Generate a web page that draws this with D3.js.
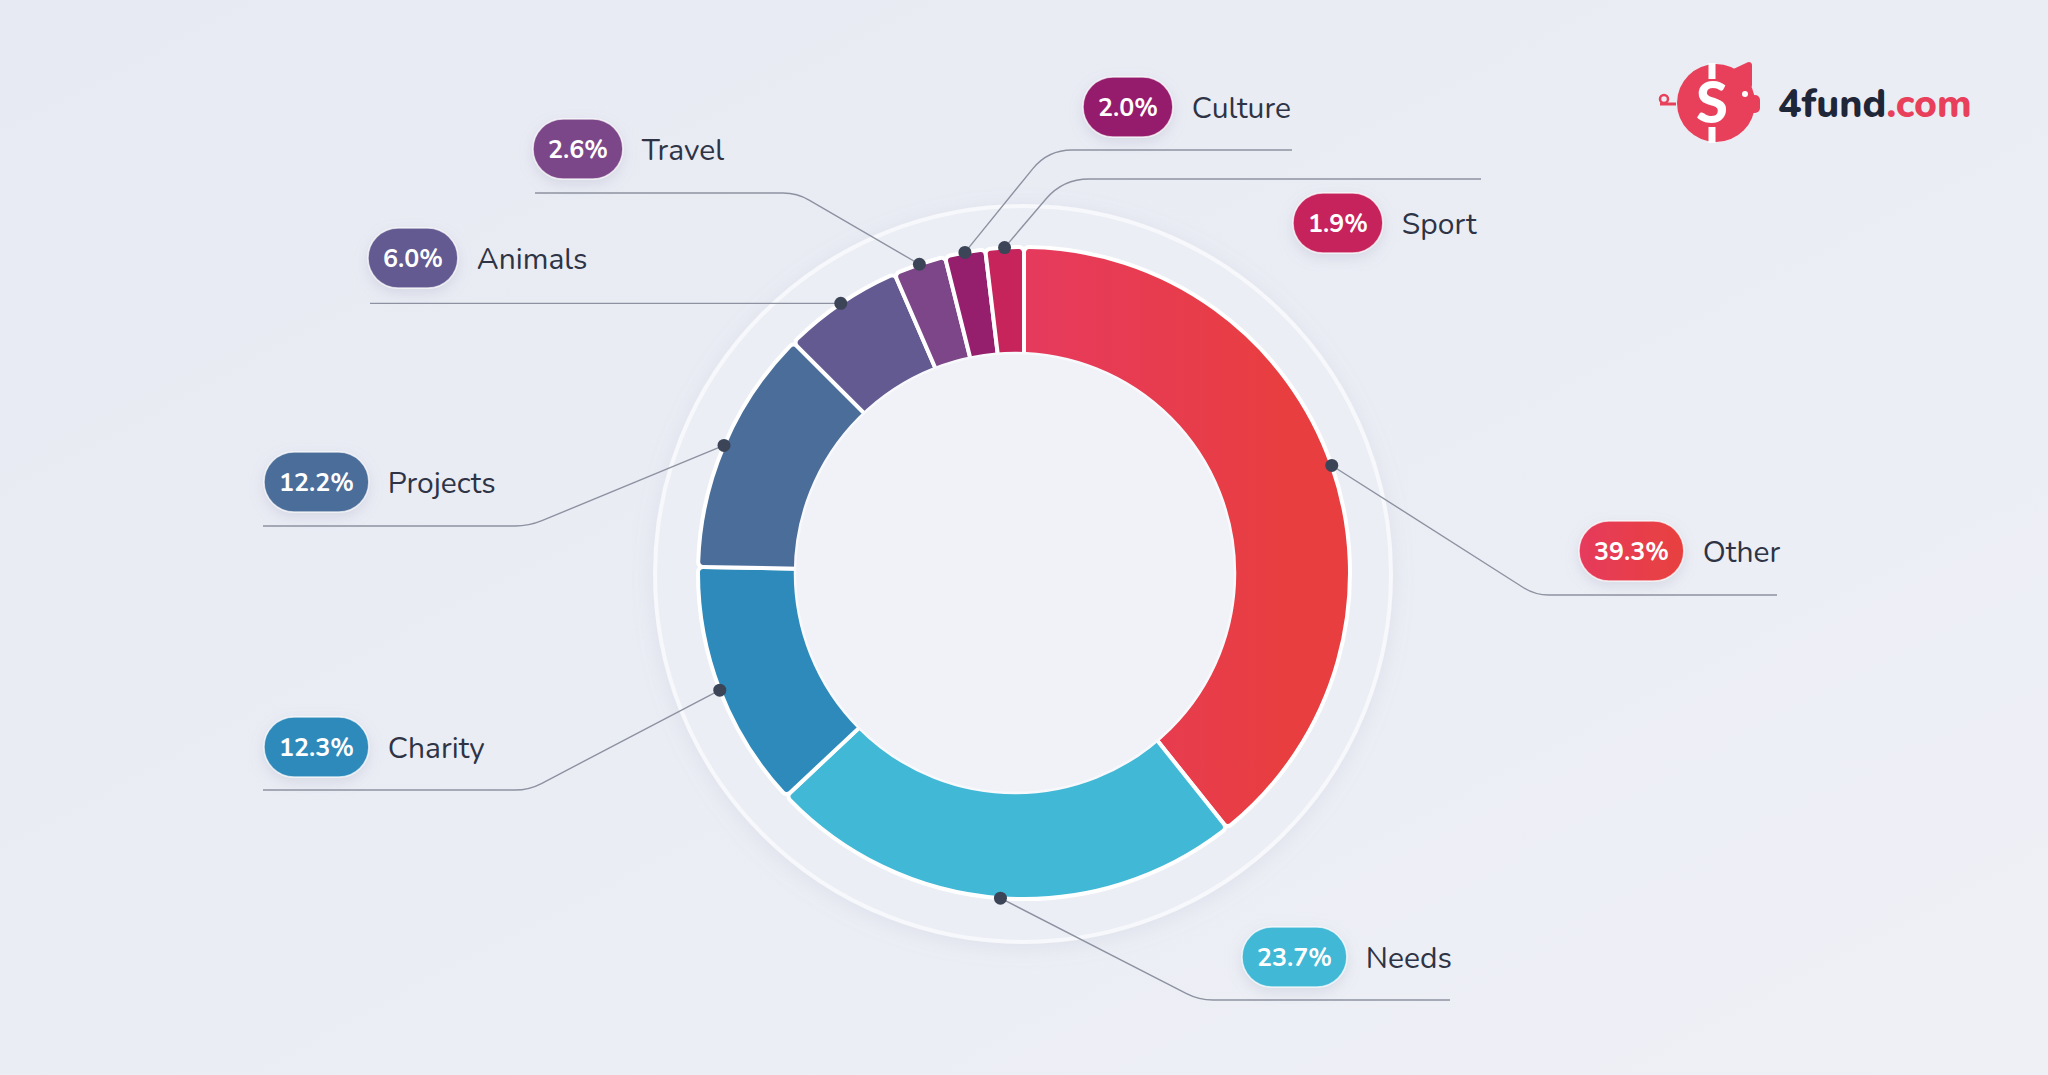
<!DOCTYPE html>
<html>
<head>
<meta charset="utf-8">
<script src="https://cdn.jsdelivr.net/npm/d3@7"></script>
<style>
    html, body { margin: 0; padding: 0; background: #eaecf4; }
    svg { display: block; font-family: Nunito, Lato, "Open Sans", sans-serif; }
</style>
</head>
<body>
<div id="chart"></div>
<script>
// category shares (%), clockwise from 12 o'clock
const categories = ["Other", "Needs", "Charity", "Projects", "Animals", "Travel", "Culture", "Sport"];
const shares = [39.3, 23.7, 12.3, 12.2, 6.0, 2.6, 2.0, 1.9];
const shareLabels = ["39.3%", "23.7%", "12.3%", "12.2%", "6.0%", "2.6%", "2.0%", "1.9%"];

const palette = ["url(#redGrad)", "#40b8d6", "#2d8aba", "#4b6d99", "#625a91", "#7c4689", "#951f6d", "#c6245b"];

// where each callout sits (pill left/centre y, elbow of leader, end of leader)
const labelLayout = {
    Other:    {pill: [1579, 551], elbow: [1535, 595], end: 1777, r: 14},
    Needs:    {pill: [1242, 957], elbow: [1199, 1000], end: 1450, r: 14},
    Charity:  {pill: [264, 747], elbow: [529, 790], end: 263, r: 14},
    Projects: {pill: [264, 482], elbow: [529, 526], end: 263, r: 14},
    Animals:  {pill: [368, 258], elbow: null, end: 370, r: 0},
    Travel:   {pill: [533, 149], elbow: [797, 193], end: 535, r: 14},
    Culture:  {pill: [1083, 107], elbow: [1048, 150], end: 1292, r: 24},
    Sport:    {pill: [1293, 223], elbow: [1063, 179], end: 1481, r: 26}
};

const width = 2048, height = 1075;
const cx = 1024, cy = 573, outerR = 326;

const data = categories.map(function (c, i) {
    return {name: c, share: shares[i], label: shareLabels[i], color: palette[i]};
});

const svg = d3.select("#chart").append("svg")
    .attr("width", width)
    .attr("height", height);

const defs = svg.append("defs");

const bg = defs.append("linearGradient").attr("id", "bgGrad")
    .attr("x1", 0).attr("y1", 0).attr("x2", 1).attr("y2", 1);
bg.append("stop").attr("offset", "0%").attr("stop-color", "#e8eaf3");
bg.append("stop").attr("offset", "100%").attr("stop-color", "#eef0f6");

// gradient is in the donut group's own coordinates (origin at the centre)
const red = defs.append("linearGradient").attr("id", "redGrad")
    .attr("gradientUnits", "userSpaceOnUse")
    .attr("x1", 0).attr("y1", 0).attr("x2", 260).attr("y2", 0);
red.append("stop").attr("offset", "0%").attr("stop-color", "#e63a5e");
red.append("stop").attr("offset", "100%").attr("stop-color", "#e83e40");

const pillRed = defs.append("linearGradient").attr("id", "pillRed")
    .attr("x1", 0).attr("y1", 0).attr("x2", 1).attr("y2", 0);
pillRed.append("stop").attr("offset", "0%").attr("stop-color", "#e63a5c");
pillRed.append("stop").attr("offset", "100%").attr("stop-color", "#e8413f");

const shadow = defs.append("filter").attr("id", "softShadow")
    .attr("x", "-30%").attr("y", "-30%").attr("width", "160%").attr("height", "160%");
shadow.append("feDropShadow").attr("dx", 0).attr("dy", 5).attr("stdDeviation", 7)
    .attr("flood-color", "#8a93ad").attr("flood-opacity", 0.22);

const ringShadow = defs.append("filter").attr("id", "ringShadow")
    .attr("x", "-20%").attr("y", "-20%").attr("width", "140%").attr("height", "140%");
ringShadow.append("feDropShadow").attr("dx", 0).attr("dy", 4).attr("stdDeviation", 10)
    .attr("flood-color", "#9aa2bb").attr("flood-opacity", 0.18);

svg.append("rect")
    .attr("width", width)
    .attr("height", height)
    .attr("fill", "url(#bgGrad)");

// faint outer ring
svg.append("circle")
    .attr("cx", cx - 1)
    .attr("cy", cy + 1)
    .attr("r", 368)
    .attr("fill", "#eceef5")
    .attr("stroke", "#f7f8fb")
    .attr("stroke-width", 4)
    .attr("filter", "url(#ringShadow)");

const pie = d3.pie()
    .sort(null)
    .value(function (d) { return d.share; });

const arcs = pie(data);

const arc = d3.arc()
    .innerRadius(195)
    .outerRadius(outerR)
    .cornerRadius(5);

const donut = svg.append("g")
    .attr("transform", "translate(" + cx + "," + cy + ")");

donut.selectAll(".slice")
    .data(arcs)
    .enter()
    .append("path")
    .classed("slice", true)
    .attr("d", arc)
    .attr("fill", function (d) { return d.data.color; })
    .attr("stroke", "#ffffff")
    .attr("stroke-width", 4)
    .attr("stroke-linejoin", "round");

// inner hole (sits a little left of the ring centre in the original)
svg.append("circle")
    .attr("cx", cx - 9)
    .attr("cy", cy)
    .attr("r", 220)
    .attr("fill", "#f0f2f7")
    .attr("stroke", "#f8f9fc")
    .attr("stroke-width", 2.5);

// leader lines
function anchorPoint(d) {
    const a = (d.startAngle + d.endAngle) / 2;
    return [cx + outerR * Math.sin(a), cy - outerR * Math.cos(a)];
}

function leaderPath(d) {
    const lay = labelLayout[d.data.name];
    const p0 = anchorPoint(d);
    if (!lay.elbow) {
        return "M" + p0[0] + "," + p0[1] + "H" + lay.end;
    }
    const p1 = lay.elbow;
    const p2 = [lay.end, p1[1]];
    const l1 = Math.hypot(p1[0] - p0[0], p1[1] - p0[1]);
    const l2 = Math.abs(p2[0] - p1[0]);
    const a = [p1[0] - (p1[0] - p0[0]) / l1 * lay.r, p1[1] - (p1[1] - p0[1]) / l1 * lay.r];
    const b = [p1[0] + (p2[0] - p1[0]) / l2 * lay.r, p1[1]];
    return "M" + p0[0] + "," + p0[1] +
        "L" + a[0] + "," + a[1] +
        "Q" + p1[0] + "," + p1[1] + " " + b[0] + "," + b[1] +
        "L" + p2[0] + "," + p2[1];
}

svg.selectAll(".leader")
    .data(arcs)
    .enter()
    .append("path")
    .classed("leader", true)
    .attr("d", leaderPath)
    .attr("fill", "none")
    .attr("stroke", "#8d92a0")
    .attr("stroke-width", 1.4);

svg.selectAll(".dot")
    .data(arcs)
    .enter()
    .append("circle")
    .classed("dot", true)
    .attr("cx", function (d) { return anchorPoint(d)[0]; })
    .attr("cy", function (d) { return anchorPoint(d)[1]; })
    .attr("r", 6.5)
    .attr("fill", "#3c4558");

// callouts: coloured pill + category name
const callouts = svg.selectAll(".callout")
    .data(arcs)
    .enter()
    .append("g")
    .classed("callout", true)
    .attr("transform", function (d) {
        const p = labelLayout[d.data.name].pill;
        return "translate(" + p[0] + "," + p[1] + ")";
    });

callouts.each(function (d) {
    const g = d3.select(this);
    const pill = g.append("rect")
        .attr("y", -30)
        .attr("height", 60)
        .attr("rx", 30)
        .attr("fill", d.data.name === "Other" ? "url(#pillRed)" : d.data.color)
        .attr("stroke", "#ffffff")
        .attr("stroke-opacity", 0.7)
        .attr("stroke-width", 1.5)
        .attr("filter", "url(#softShadow)");

    const pct = g.append("text")
        .attr("y", 9)
        .attr("fill", "#ffffff")
        .attr("font-size", 25)
        .attr("font-weight", 700)
        .text(d.data.label);

    const tw = pct.node().getComputedTextLength();
    const pw = tw + 30;
    pill.attr("width", pw);
    pct.attr("x", (pw - tw) / 2);

    g.append("text")
        .attr("x", pw + 19)
        .attr("y", 11)
        .attr("fill", "#2e3445")
        .attr("font-size", 30)
        .text(d.data.name);
});

// logo
const logo = svg.append("g").attr("transform", "translate(1716,103)");
logo.append("path")
    .attr("d", "M16,-30 L33,-38 L33,-18 Z")
    .attr("fill", "#e8405a")
    .attr("stroke", "#e8405a")
    .attr("stroke-width", 6)
    .attr("stroke-linejoin", "round");
logo.append("rect")
    .attr("x", 30).attr("y", -8).attr("width", 14).attr("height", 18).attr("rx", 5)
    .attr("fill", "#e8405a");
logo.append("circle").attr("r", 39).attr("fill", "#e8405a");
logo.append("circle").attr("cx", 29).attr("cy", -9).attr("r", 3).attr("fill", "#ffffff");
logo.append("circle").attr("cx", -52).attr("cy", -4).attr("r", 4)
    .attr("fill", "none").attr("stroke", "#e8405a").attr("stroke-width", 2.5);
logo.append("path").attr("d", "M-56,1 H-40").attr("stroke", "#e8405a").attr("stroke-width", 3);
logo.append("text")
    .attr("x", -4).attr("y", 20)
    .attr("text-anchor", "middle")
    .attr("fill", "#ffffff")
    .attr("font-size", 58)
    .attr("font-weight", 900)
    .attr("font-family", "Lato, sans-serif")
    .text("S");
logo.append("path").attr("d", "M-4,-40 V-24 M-4,24 V40")
    .attr("stroke", "#ffffff").attr("stroke-width", 7);

const brand = svg.append("text")
    .attr("x", 1778)
    .attr("y", 117)
    .attr("font-size", 39)
    .attr("font-weight", 800)
    .attr("font-family", "Nunito, Lato, sans-serif");
brand.append("tspan").attr("fill", "#1f2637").text("4fund");
brand.append("tspan").attr("fill", "#e8405a").text(".com");
</script>
</body>
</html>
